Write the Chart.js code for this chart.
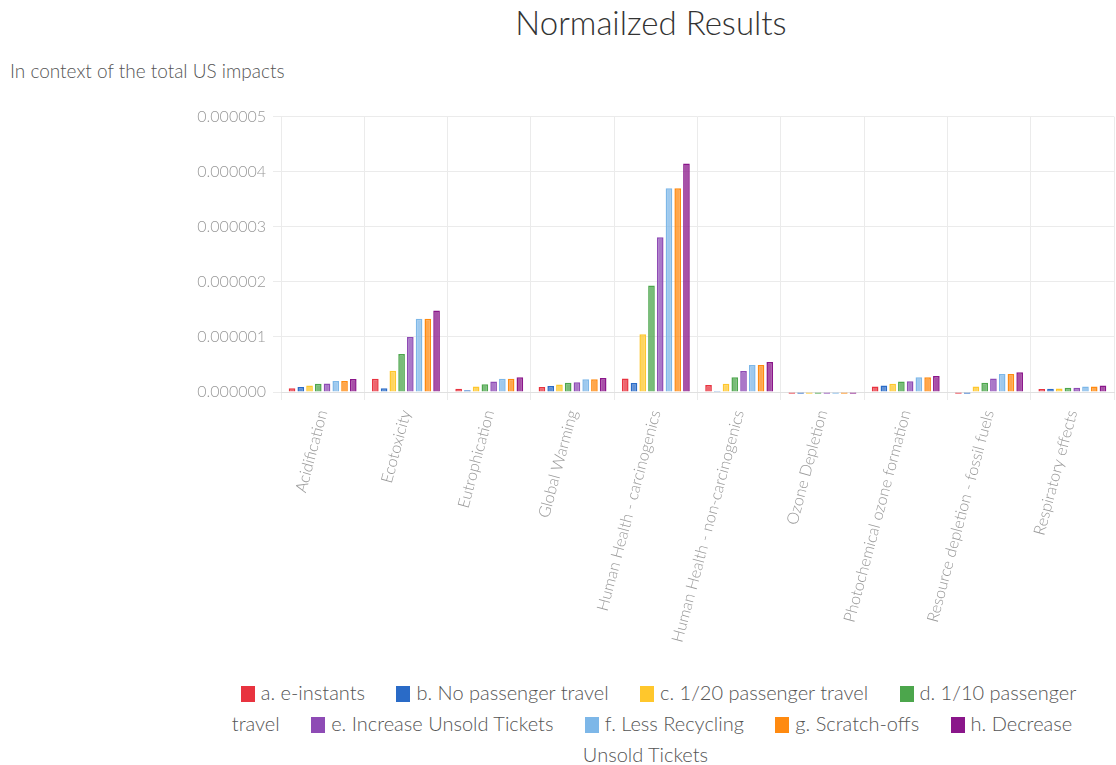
<!DOCTYPE html>
<html>
<head>
<meta charset="utf-8">
<script src="https://cdn.jsdelivr.net/npm/chart.js@4.4.0/dist/chart.umd.min.js"></script>
<style>
  body { margin: 0; background: #fff; font-family: 'Lato', 'Liberation Sans', sans-serif; font-weight: 300; }
  #title { position: absolute; top: 2px; left: 400px; width: 502px; text-align: center; font-size: 33px; color: #333; }
  #subtitle { position: absolute; top: 59px; left: 10px; font-size: 19px; color: #555; }
  #wrap { position: absolute; top: 100px; left: 0; width: 1116px; height: 565px; }
  #legend { position: absolute; top: 677px; left: 212px; width: 880px; text-align: center; font-size: 20px; line-height: 31px; color: #555; }
  #legend .item { margin: 0 13px; }
  #legend .box { display: inline-block; width: 14px; height: 16px; margin-right: 6px; vertical-align: -2px; }
</style>
</head>
<body>
<div id="title">Normailzed Results</div>
<div id="subtitle">In context of the total US impacts</div>
<div id="wrap"><canvas id="resultsChart"></canvas></div>
<div id="legend"></div>
<script>
// categories (impact types)
const categories = [
    'Acidification', 'Ecotoxicity', 'Eutrophication', 'Global Warming',
    'Human Health - carcinogenics', 'Human Health - non-carcinogenics',
    'Ozone Depletion', 'Photochemical ozone formation',
    'Resource depletion - fossil fuels', 'Respiratory effects'
];

const seriesNames = [
    'a. e-instants', 'b. No passenger travel', 'c. 1/20 passenger travel',
    'd. 1/10 passenger travel', 'e. Increase Unsold Tickets', 'f. Less Recycling',
    'g. Scratch-offs', 'h. Decrease Unsold Tickets'
];

// values in units of 1e-6
const eInstants       = [0.07, 0.24, 0.06, 0.09, 0.245, 0.125, -0.03, 0.10, -0.03, 0.055];
const noPassenger     = [0.09, 0.07, 0.03, 0.11, 0.165, 0.02, -0.03, 0.12, -0.03, 0.06];
const passenger20     = [0.12, 0.385, 0.10, 0.135, 1.05, 0.15, -0.03, 0.15, 0.10, 0.065];
const passenger10     = [0.15, 0.69, 0.14, 0.17, 1.935, 0.27, -0.03, 0.19, 0.17, 0.075];
const increaseUnsold  = [0.155, 1.0, 0.19, 0.175, 2.81, 0.38, -0.03, 0.195, 0.245, 0.075];
const lessRecycling   = [0.20, 1.33, 0.24, 0.23, 3.70, 0.49, -0.03, 0.27, 0.325, 0.10];
const scratchOffs     = [0.20, 1.33, 0.24, 0.23, 3.70, 0.49, -0.03, 0.27, 0.325, 0.10];
const decreaseUnsold  = [0.235, 1.48, 0.27, 0.255, 4.15, 0.545, -0.03, 0.29, 0.36, 0.12];

const yTicks = [0, 1, 2, 3, 4, 5];

const colors = ['#e8333f', '#2a6bc7', '#ffc72c', '#4ca64c', '#8e4bb5', '#7db7e8', '#ff8a10', '#8a168a'];

const allSeries = [eInstants, noPassenger, passenger20, passenger10,
                   increaseUnsold, lessRecycling, scratchOffs, decreaseUnsold];

function withAlpha(hex, a) {
    const n = parseInt(hex.slice(1), 16);
    return `rgba(${n >> 16}, ${(n >> 8) & 255}, ${n & 255}, ${a})`;
}

const datasets = allSeries.map((vals, i) => ({
    label: seriesNames[i],
    data: vals.map(v => v * 1e-6),
    backgroundColor: withAlpha(colors[i], 0.75),
    borderColor: colors[i],
    borderWidth: 1.5,
    clip: false,
    categoryPercentage: 0.84,
    barPercentage: 0.76
}));

const fontFamily = "'Lato', 'Liberation Sans', sans-serif";

new Chart(document.getElementById('resultsChart').getContext('2d'), {
    type: 'bar',
    data: { labels: categories, datasets: datasets },
    options: {
        responsive: true,
        maintainAspectRatio: false,
        animation: false,
        layout: { padding: { top: 16, right: 2 } },
        plugins: { legend: { display: false }, tooltip: { enabled: false } },
        scales: {
            x: {
                grid: { color: '#ebebeb' },
                border: { color: '#e0e0e0' },
                ticks: {
                    color: '#999',
                    font: { family: fontFamily, size: 16, weight: 300 },
                    autoSkip: false,
                    padding: 8,
                    minRotation: 75,
                    maxRotation: 75
                },
                afterFit: function (scale) { scale.height = 273; }
            },
            y: {
                min: yTicks[0] * 1e-6,
                max: yTicks[yTicks.length - 1] * 1e-6,
                grid: { color: '#ebebeb' },
                border: { display: false },
                afterBuildTicks: function (scale) {
                    scale.ticks = yTicks.map(t => ({ value: t * 1e-6 }));
                },
                ticks: {
                    color: '#999',
                    padding: 7,
                    font: { family: fontFamily, size: 16, weight: 300 },
                    callback: function (value) { return Number(value).toFixed(6); }
                },
                afterFit: function (scale) { scale.width = 281; }
            }
        }
    }
});

// legend as flowing html text, like the original
const legend = document.getElementById('legend');
legend.innerHTML = seriesNames.map((name, i) =>
    `<span class="item"><span class="box" style="background:${colors[i]}"></span>${name}</span>`
).join(' ');
</script>
</body>
</html>
